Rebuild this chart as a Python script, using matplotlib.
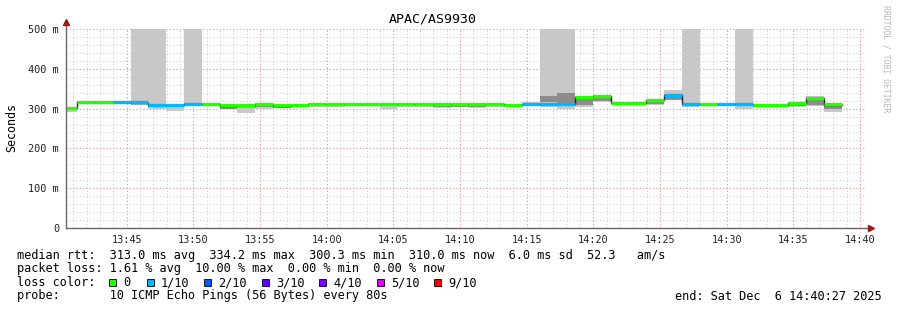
import matplotlib
matplotlib.use('Agg')
import matplotlib.pyplot as plt
from matplotlib.patches import Rectangle
import numpy as np

# ---- data ----
title = 'APAC/AS9930'
first_step = '13:39:58'          # start of the first 80 s step
step_len = 80
t_start = '13:40:27'
t_end = '14:40:27'

# median rtt per step (ms) and loss count per step (of 10)
median = [300.3, 316, 316, 316, 315, 308, 308, 311.6, 311, 307,
          307, 311.6, 307, 309, 311, 310.8, 310.8, 310.8, 311, 311,
          311, 311, 311, 311.6, 311.6, 309, 311, 311, 311, 328,
          331, 313, 313, 321.7, 334.2, 311.6, 311.6, 311.6, 311.6, 308.5,
          308.5, 314, 326.5, 310.0]
loss = [0, 0, 0, 1, 1, 1, 1, 1, 0, 0,
        0, 0, 0, 0, 0, 0, 0, 0, 0, 0,
        0, 0, 0, 0, 0, 0, 1, 1, 1, 0,
        0, 0, 0, 0, 1, 1, 0, 1, 1, 0,
        0, 0, 0, 0]

# smoke (spread of the pings), outer band and denser inner band
smoke_lo = [292, 311, 312, 313, 308, 300, 295, 308, 307, 298,
            288, 299, 302, 303, 305, 305, 306, 306, 299, 305,
            303, 301, 304, 301, 305, 306, 309, 305, 298, 305,
            316, 310, 310, 309, 322, 305, 307, 308, 298, 305,
            305, 305, 306, 292]
smoke_hi = [303, 318, 318, 318, 600, 600, 311, 600, 313, 310,
            310, 313, 309, 309, 313, 312, 312, 312, 312, 312,
            312, 312, 312, 312, 312, 311, 316, 600, 600, 332,
            333, 314, 314, 320, 347, 600, 313, 313, 600, 310,
            310, 315, 332, 309]
dark_lo = [296, 316, 316, 316, 312, 305, 305, 310, 311, 300,
           303, 303, 302, 309, 311, 310, 310, 310, 311, 311,
           311, 303, 305, 303, 311, 309, 311, 317, 312, 310,
           320, 313, 313, 312, 322, 311, 311, 311, 311, 308,
           308, 307, 310, 300]
dark_hi = [301, 316, 316, 316, 318, 310, 309, 313, 311, 307,
           307, 310, 307, 309, 311, 310, 310, 310, 311, 311,
           311, 309, 309, 309, 311, 309, 311, 332, 339, 327,
           330, 313, 313, 320, 332, 311, 311, 311, 311, 308,
           308, 314, 322, 308]

loss_labels = ['0', '1/10', '2/10', '3/10', '4/10', '5/10', '9/10']
loss_colors = ['#26ff00', '#00b8ff', '#0059ff', '#5e00ff', '#7e00ff', '#dd00ff', '#ff0000']
loss_levels = [0, 1, 2, 3, 4, 5, 9]

x_tick_labels = ['13:45', '13:50', '13:55', '14:00', '14:05', '14:10', '14:15',
                 '14:20', '14:25', '14:30', '14:35', '14:40']
y_ticks = [0, 100, 200, 300, 400, 500]
y_tick_labels = ['0', '100 m', '200 m', '300 m', '400 m', '500 m']

legend_lines = [
    'median rtt:  313.0 ms avg  334.2 ms max  300.3 ms min  310.0 ms now  6.0 ms sd  52.3   am/s',
    'packet loss: 1.61 % avg  10.00 % max  0.00 % min  0.00 % now',
    'loss color:',
    'probe:       10 ICMP Echo Pings (56 Bytes) every 80s',
]
end_text = 'end: Sat Dec  6 14:40:27 2025'


def tsec(s):
    parts = [int(p) for p in s.split(':')]
    if len(parts) == 2:
        parts.append(0)
    return parts[0] * 3600 + parts[1] * 60 + parts[2]


W, H = 897, 310
MONO = 'DejaVu Sans Mono'
plt.rcParams['font.family'] = MONO

fig = plt.figure(figsize=(W / 100, H / 100), dpi=100)
fig.patch.set_facecolor('white')
ax = fig.add_axes([66 / W, 1 - 228 / H, 800 / W, 199 / H])
ax.set_facecolor('white')

x0, x1 = tsec(t_start), tsec(t_end)
ax.set_xlim(x0, x1)
ax.set_ylim(0, 500)

# grid
for xm in range((x0 // 60 + 1) * 60, x1, 60):
    ax.axvline(xm, color='#d0d0d0', lw=0.8, ls=(0, (1, 2)), zorder=0)
for ym in range(20, 500, 20):
    ax.axhline(ym, color='#d0d0d0', lw=0.8, ls=(0, (1, 2)), zorder=0)
for lab in x_tick_labels:
    ax.axvline(tsec(lab), color='#f29a9a', lw=0.8, ls=(0, (1, 2)), zorder=0.5)
for yv in y_ticks[1:]:
    ax.axhline(yv, color='#f29a9a', lw=0.8, ls=(0, (1, 2)), zorder=0.5)

starts = tsec(first_step) + step_len * np.arange(len(median))
med = np.array(median)
lo, hi = np.array(smoke_lo), np.array(smoke_hi)
dlo, dhi = np.array(dark_lo), np.array(dark_hi)

ax.bar(starts, hi - lo, bottom=lo, width=step_len, align='edge',
       color='#c8c8c8', lw=0, zorder=1)
ax.bar(starts, dhi - dlo, bottom=dlo, width=step_len, align='edge',
       color='#8c8c8c', lw=0, zorder=1.5)

# median: thin dark step line + loss coloured segments
ax.step(np.append(starts, starts[-1] + step_len), np.append(med, med[-1]),
        where='post', color='#202020', lw=1.0, zorder=2)
cmap = dict(zip(loss_levels, loss_colors))
ax.hlines(med + 1.0, starts, starts + step_len,
          colors=[cmap[l] for l in loss], lw=2.4, zorder=3)

# axes
for s in ax.spines.values():
    s.set_visible(False)
ax.plot([0, 0], [0, 1.035], transform=ax.transAxes, color='#666666', lw=1, clip_on=False, zorder=4)
ax.plot([0, 1.006], [0, 0], transform=ax.transAxes, color='#666666', lw=1, clip_on=False, zorder=4)
ax.plot([0], [1.035], transform=ax.transAxes, marker='^', ms=4, color='#a01818', clip_on=False, zorder=5)
ax.plot([1.006], [0], transform=ax.transAxes, marker='>', ms=4, color='#a01818', clip_on=False, zorder=5)

ax.set_xticks([tsec(l) for l in x_tick_labels])
ax.set_xticklabels(x_tick_labels, fontsize=7.4, color='#222222')
ax.set_yticks(y_ticks)
ax.set_yticklabels(y_tick_labels, fontsize=7.4, color='#222222')
ax.tick_params(length=0, pad=5)

fig.text(11.5 / W, 1 - 128 / H, 'Seconds', rotation=90, ha='center', va='center', fontsize=8.4)
fig.text(433 / W, 1 - 19 / H, title, ha='center', va='center', fontsize=9.5, color='#000000')
fig.text(886 / W, 1 - 5 / H, 'RRDTOOL / TOBI OETIKER', rotation=270, ha='center', va='top',
         fontsize=5.9, color='#b8b8b8')

# legend block
rows = [255, 268.5, 282.5, 296]
for txt, py in zip(legend_lines, rows):
    fig.text(16.5 / W, 1 - py / H, txt, ha='left', va='center', fontsize=8.55, color='#000000')
box_x = [109, 147, 204, 262, 319, 377, 434]
for bx, lab, col in zip(box_x, loss_labels, loss_colors):
    fig.patches.append(Rectangle((bx / W, 1 - 286 / H), 7 / W, 7 / H, transform=fig.transFigure,
                                 facecolor=col, edgecolor='#000000', lw=0.6))
    fig.text((bx + 14) / W, 1 - rows[2] / H, lab, ha='left', va='center', fontsize=8.55)
fig.text(882 / W, 1 - rows[3] / H, end_text, ha='right', va='center', fontsize=8.55)

fig.savefig('out.png', dpi=100)
